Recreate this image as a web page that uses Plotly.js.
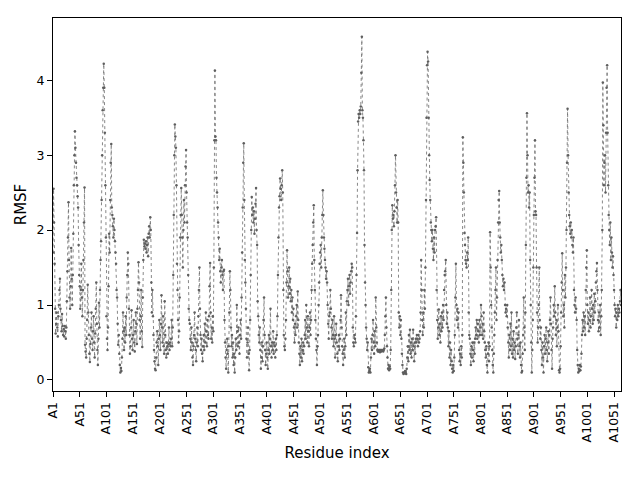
<!DOCTYPE html>
<html>
<head>
<meta charset="utf-8">
<script src="https://cdn.plot.ly/plotly-3.0.1.min.js"></script>
<style>
	html, body {margin: 0; padding: 0; background: #ffffff;}
	#myDiv {width: 640px; height: 480px;}
</style>
</head>
<body>
<div id="myDiv"></div>
<script>
// RMSF per residue (20 residues per line)
var rmsf = [
	1.70, 2.55, 2.10, 1.55, 0.95, 0.62, 0.75, 0.90, 0.70, 0.58, 0.85, 1.00, 1.20, 1.35, 0.95, 0.80, 0.65, 0.88, 0.72, 0.60,
	0.68, 0.58, 0.72, 0.65, 0.55, 0.70, 1.05, 1.45, 1.90, 2.37, 1.60, 1.10, 0.95, 1.25, 1.76, 1.35, 1.00, 1.40, 1.95, 2.60,
	3.00, 3.32, 3.10, 2.90, 2.70, 2.60, 2.45, 2.30, 1.80, 1.40, 1.25, 0.95, 1.20, 1.55, 1.10, 0.85, 1.20, 1.60, 2.10, 2.57,
	0.47, 0.38, 0.30, 0.55, 0.80, 1.27, 0.90, 0.60, 0.35, 0.24, 0.48, 0.70, 0.90, 0.55, 0.40, 0.65, 0.85, 0.50, 0.30, 0.62,
	0.95, 1.30, 0.75, 0.40, 0.20, 0.55, 1.03, 0.70, 1.20, 1.60, 1.85, 2.40, 3.00, 3.60, 3.90, 4.22, 3.90, 3.30, 2.60, 1.90,
	0.85, 0.55, 0.40, 0.70, 1.25, 1.95, 1.70, 2.40, 2.90, 3.15, 2.30, 2.20, 2.05, 1.90, 2.15, 2.00, 1.85, 1.70, 1.55, 1.20,
	1.10, 0.75, 0.47, 0.60, 0.35, 0.20, 0.10, 0.16, 0.12, 0.30, 0.55, 0.90, 0.65, 0.40, 0.70, 0.50, 0.85, 0.60, 1.10, 1.40,
	1.70, 1.55, 0.95, 0.60, 0.35, 0.45, 0.70, 0.93, 0.55, 0.40, 0.60, 0.80, 0.50, 0.38, 0.65, 0.90, 0.75, 0.48, 0.95, 1.20,
	1.57, 1.30, 0.80, 0.55, 0.85, 1.20, 0.65, 0.44, 1.10, 1.60, 1.87, 1.78, 1.82, 1.75, 1.85, 1.70, 1.80, 1.90, 1.65, 1.95,
	2.05, 1.90, 2.17, 2.00, 1.30, 0.90, 1.20, 0.85, 0.60, 0.40, 0.25, 0.15, 0.13, 0.30, 0.50, 0.65, 0.45, 0.20, 0.55, 0.80,
	0.60, 0.40, 0.75, 1.13, 0.70, 0.50, 0.85, 0.45, 0.35, 1.05, 0.60, 0.40, 0.30, 0.50, 0.45, 0.35, 0.48, 0.70, 0.40, 0.50,
	0.45, 0.55, 0.80, 0.45, 0.70, 1.40, 2.20, 3.00, 3.41, 3.25, 3.10, 2.60, 1.55, 1.20, 0.80, 0.50, 0.65, 1.10, 1.90, 2.20,
	2.56, 2.20, 1.90, 1.50, 2.00, 2.40, 2.10, 2.60, 2.85, 3.07, 2.50, 2.10, 1.90, 1.40, 0.95, 0.80, 0.75, 0.55, 0.40, 0.70,
	0.50, 0.30, 0.20, 0.45, 0.60, 0.90, 0.55, 0.40, 0.25, 0.50, 0.70, 0.45, 0.85, 1.20, 1.50, 0.95, 0.60, 0.40, 0.55, 0.35,
	0.25, 0.45, 0.60, 0.40, 0.75, 0.50, 0.90, 0.65, 0.45, 0.80, 0.60, 0.55, 0.85, 1.25, 1.56, 0.90, 0.55, 0.70, 0.50, 0.85,
	0.65, 1.50, 3.20, 4.13, 3.25, 3.20, 2.70, 2.50, 2.30, 2.10, 1.90, 1.60, 1.75, 1.45, 1.30, 1.50, 1.60, 1.40, 1.20, 1.45,
	1.47, 0.80, 0.50, 0.30, 0.15, 0.40, 0.55, 0.35, 0.10, 0.45, 0.90, 1.45, 1.20, 0.70, 0.45, 0.60, 0.30, 0.50, 0.20, 0.35,
	0.10, 0.30, 0.55, 0.40, 1.00, 0.65, 0.45, 0.70, 0.50, 0.35, 0.60, 0.80, 0.55, 1.10, 1.70, 2.30, 2.90, 3.16, 2.40, 1.60,
	1.30, 0.95, 0.55, 0.30, 0.50, 0.70, 0.35, 0.13, 0.40, 0.80, 1.40, 2.00, 2.44, 2.20, 2.30, 2.10, 2.25, 1.95, 2.15, 2.35,
	2.56, 2.00, 1.80, 1.05, 0.85, 0.60, 0.50, 0.70, 0.40, 0.15, 0.30, 0.50, 0.25, 0.45, 0.80, 1.10, 0.60, 0.40, 0.20, 0.35,
	0.50, 0.30, 0.15, 0.40, 0.60, 0.35, 0.55, 0.95, 0.45, 0.30, 0.50, 0.40, 0.65, 0.35, 0.50, 0.45, 0.30, 0.55, 0.40, 0.60,
	0.85, 1.40, 1.90, 2.30, 2.45, 2.69, 2.55, 2.40, 2.60, 2.80, 2.50, 1.20, 0.60, 0.45, 0.40, 0.55, 0.80, 1.30, 1.73, 1.45,
	1.10, 1.25, 1.50, 1.15, 1.35, 1.05, 1.20, 0.90, 1.10, 0.80, 0.95, 0.70, 0.50, 0.75, 0.60, 0.85, 1.00, 0.70, 1.18, 0.80,
	0.50, 0.35, 0.20, 0.45, 0.30, 0.55, 0.25, 0.40, 0.50, 0.35, 0.45, 0.60, 0.80, 0.55, 1.00, 0.70, 0.50, 0.85, 0.65, 0.45,
	0.70, 0.90, 0.60, 0.80, 1.20, 1.55, 1.80, 2.10, 2.33, 1.60, 1.20, 0.80, 0.55, 0.40, 0.20, 0.45, 0.60, 1.00, 1.30, 1.55,
	1.70, 1.80, 1.50, 1.90, 2.20, 2.53, 2.20, 1.90, 1.75, 1.60, 1.50, 1.35, 1.45, 1.30, 1.00, 0.75, 0.55, 0.85, 0.90, 1.20,
	0.95, 0.70, 0.55, 0.80, 0.60, 0.45, 0.85, 0.55, 0.30, 0.60, 0.75, 0.50, 0.35, 0.25, 0.45, 0.60, 0.40, 0.55, 0.80, 1.13,
	0.70, 0.45, 0.35, 0.20, 0.40, 0.55, 0.30, 0.45, 0.90, 0.60, 1.05, 1.20, 1.35, 1.00, 1.25, 1.40, 1.15, 1.30, 1.45, 1.55,
	1.50, 0.70, 0.50, 0.45, 0.60, 0.55, 0.50, 0.85, 1.40, 1.96, 2.80, 3.45, 3.55, 3.50, 3.60, 3.55, 3.65, 4.10, 4.58, 3.60,
	3.50, 3.20, 2.80, 1.80, 1.30, 1.00, 0.70, 0.55, 0.40, 0.50, 0.17, 0.10, 0.12, 0.15, 0.10, 0.30, 0.55, 0.40, 0.60, 0.80,
	0.50, 0.35, 0.65, 0.45, 1.10, 0.70, 0.50, 0.40, 0.38, 0.40, 0.38, 0.40, 0.37, 0.40, 0.38, 0.40, 0.39, 0.40, 0.38, 0.40,
	0.42, 0.60, 0.85, 1.10, 0.70, 0.45, 0.30, 0.15, 0.20, 0.13, 0.18, 0.15, 0.40, 1.20, 2.00, 2.33, 2.15, 2.20, 2.05, 2.25,
	2.60, 3.00, 2.50, 2.30, 2.10, 2.40, 2.10, 0.90, 0.70, 0.85, 0.60, 0.80, 0.55, 0.35, 0.20, 0.10, 0.08, 0.10, 0.09, 0.12,
	0.10, 0.08, 0.15, 0.30, 0.45, 0.25, 0.60, 0.40, 0.67, 0.35, 0.50, 0.30, 0.55, 0.40, 0.67, 0.45, 0.25, 0.50, 0.35, 0.55,
	0.50, 0.60, 0.55, 0.45, 0.60, 0.50, 0.55, 0.65, 0.90, 1.60, 1.20, 0.80, 0.60, 0.90, 0.70, 1.20, 0.95, 1.50, 2.40, 3.50,
	4.20, 4.38, 4.25, 3.50, 3.00, 2.67, 2.40, 2.10, 2.00, 1.85, 2.00, 1.75, 1.60, 1.90, 1.70, 2.00, 2.05, 2.17, 1.20, 0.80,
	0.55, 0.70, 0.94, 0.60, 0.75, 0.50, 0.85, 0.65, 0.90, 0.70, 1.00, 0.80, 1.20, 1.40, 1.45, 1.60, 1.00, 0.75, 0.90, 0.70,
	0.45, 0.65, 0.30, 0.50, 0.20, 0.40, 0.25, 0.15, 0.10, 0.20, 0.12, 0.30, 0.60, 1.10, 1.55, 1.00, 0.80, 0.95, 0.70, 0.90,
	0.40, 0.25, 0.35, 0.20, 0.45, 0.30, 0.60, 3.24, 2.90, 2.50, 1.96, 1.80, 1.60, 1.55, 1.50, 1.70, 1.60, 1.90, 0.90, 0.60,
	0.55, 0.35, 0.20, 0.45, 0.30, 0.50, 0.40, 0.25, 0.50, 0.35, 0.55, 0.70, 0.60, 0.80, 0.55, 0.75, 0.65, 0.50, 0.80, 0.60,
	0.70, 1.00, 0.85, 0.60, 0.75, 0.55, 0.90, 0.65, 0.50, 0.40, 0.30, 0.45, 0.20, 0.10, 0.35, 0.50, 0.25, 0.45, 1.97, 1.50,
	1.00, 0.70, 0.40, 0.20, 0.10, 0.35, 0.60, 0.90, 1.20, 1.50, 0.80, 1.10, 1.60, 2.10, 2.40, 2.52, 2.10, 1.90, 1.70, 1.80,
	1.60, 1.40, 1.25, 1.35, 1.20, 1.30, 1.00, 0.90, 0.95, 0.85, 1.00, 0.70, 0.50, 0.30, 0.60, 0.40, 0.75, 0.45, 0.90, 0.35,
	0.55, 0.30, 0.65, 0.40, 0.50, 0.28, 0.45, 0.70, 0.90, 0.55, 0.35, 0.60, 0.80, 0.45, 0.30, 0.50, 0.20, 0.10, 0.12, 0.35,
	0.60, 1.10, 0.70, 0.40, 0.90, 1.80, 2.70, 3.56, 3.00, 2.50, 2.60, 2.30, 2.50, 1.60, 1.00, 0.50, 0.10, 0.40, 0.80, 1.50,
	2.20, 2.70, 3.20, 2.25, 2.20, 1.50, 0.90, 0.50, 0.70, 1.00, 1.50, 0.80, 0.55, 0.70, 0.40, 0.20, 0.50, 0.30, 0.10, 0.45,
	0.60, 0.35, 0.55, 0.70, 0.40, 0.25, 0.50, 0.65, 0.35, 0.60, 0.80, 1.10, 0.75, 0.40, 0.15, 0.55, 0.70, 1.00, 0.85, 1.25,
	0.90, 0.60, 0.80, 0.45, 0.70, 1.00, 0.65, 0.13, 0.10, 0.15, 0.45, 0.90, 1.30, 1.69, 1.20, 0.85, 1.00, 0.70, 1.40, 1.10,
	1.50, 2.00, 2.90, 3.62, 3.00, 2.50, 2.20, 2.05, 1.95, 2.10, 1.90, 2.00, 1.80, 1.70, 1.90, 1.20, 1.00, 0.90, 1.10, 0.95,
	0.80, 0.40, 0.20, 0.10, 0.15, 0.12, 0.20, 0.13, 0.18, 0.35, 0.60, 0.80, 0.65, 0.90, 0.70, 0.85, 0.60, 1.20, 1.50, 1.73,
	1.00, 0.75, 0.90, 0.65, 0.80, 1.10, 0.70, 0.85, 1.20, 0.95, 0.75, 1.00, 0.80, 1.15, 0.90, 1.05, 1.30, 1.45, 1.56, 1.20,
	0.80, 0.65, 0.90, 0.70, 1.00, 0.60, 0.85, 1.20, 2.00, 3.97, 3.40, 2.60, 2.90, 3.00, 2.50, 3.30, 3.90, 4.20, 3.30, 2.60,
	2.20, 2.00, 1.80, 2.10, 1.60, 1.90, 1.70, 1.50, 1.65, 1.40, 1.20, 1.00, 0.85, 0.95, 0.70, 0.90, 0.80, 1.00, 0.85, 0.95,
	0.90, 1.05, 1.20, 1.00
];

// labelled ticks, every 50 residues
var tickLabels = ['A1', 'A51', 'A101', 'A151', 'A201', 'A251', 'A301', 'A351', 'A401', 'A451', 'A501',
	'A551', 'A601', 'A651', 'A701', 'A751', 'A801', 'A851', 'A901', 'A951', 'A1001', 'A1051'];

var residues = [];
for (var i = 0; i < rmsf.length; i++){
	residues.push('A' + (i + 1));
};

var data = [{
	x: residues,
	y: rmsf,
	type: 'scatter',
	mode: 'lines+markers',
	line: {color: '#6a6a6a', width: 0.8, dash: 'dot'},
	marker: {color: '#5e5e5e', size: 2.5},
	hoverinfo: 'x+y'
}];

var layout = {
	width: 640,
	height: 480,
	font: {family: 'DejaVu Sans', size: 12.5, color: '#000000'},
	paper_bgcolor: '#ffffff',
	plot_bgcolor: '#ffffff',
	showlegend: false,
	margin: {l: 53, r: 19, t: 18, b: 89, pad: 0},
	xaxis: {
		type: 'category',
		range: [0, rmsf.length - 1],
		tickvals: tickLabels,
		ticktext: tickLabels,
		tickangle: -90,
		ticks: 'outside',
		ticklen: 5,
		tickcolor: '#000000',
		showgrid: false,
		zeroline: false,
		showline: true,
		mirror: true,
		linecolor: '#000000',
		linewidth: 1,
		title: {text: 'Residue index', standoff: 6}
	},
	yaxis: {
		range: [-0.147, 4.83],
		tickvals: [0, 1, 2, 3, 4],
		ticks: 'outside',
		ticklen: 5,
		tickcolor: '#000000',
		showgrid: false,
		zeroline: false,
		showline: true,
		mirror: true,
		linecolor: '#000000',
		linewidth: 1,
		title: {text: 'RMSF', standoff: 6}
	}
};

Plotly.newPlot('myDiv', data, layout, {displayModeBar: false, responsive: false});
</script>
</body>
</html>
